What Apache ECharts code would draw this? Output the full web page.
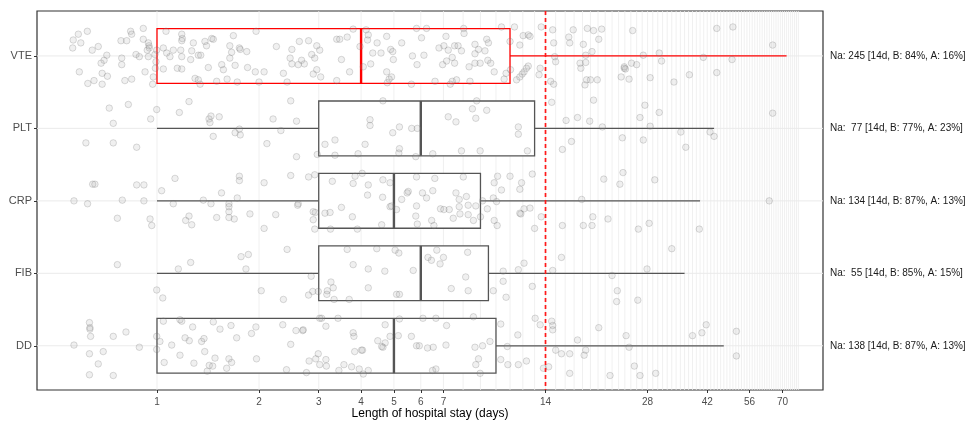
<!DOCTYPE html>
<html>
<head>
<meta charset="utf-8">
<script src="https://cdn.jsdelivr.net/npm/echarts@6/dist/echarts.min.js"></script>
<style>
html,body{margin:0;padding:0;background:#fff;}
#chart{width:968px;height:422px;}
</style>
</head>
<body>
<div id="chart"></div>
<script>
const categories = ['VTE', 'PLT', 'CRP', 'FIB', 'DD'];
const whiskerLow = [1, 1, 1, 1, 1];
const q1 = [1, 3, 3, 3, 1];
const median = [4, 6, 5, 6, 5];
const q3 = [11, 13, 9, 9.5, 10];
const whiskerHigh = [72, 44, 40, 36, 47];
const boxColors = ['#ff0000', '#555555', '#555555', '#555555', '#555555'];
const annotations = [
  'Na: 245 [14d, B: 84%, A: 16%]',
  'Na:  77 [14d, B: 77%, A: 23%]',
  'Na: 134 [14d, B: 87%, A: 13%]',
  'Na:  55 [14d, B: 85%, A: 15%]',
  'Na: 138 [14d, B: 87%, A: 13%]'
];
const tickValues = [1, 2, 3, 4, 5, 6, 7, 14, 28, 42, 56, 70];
const gridDays = Array.from({length: 78}, (_, i) => i + 1);
const cutoffDay = 14;

// jittered observations: [days, vertical jitter in category units]
const vtePoints = [
[0.566,-0.22],[0.586,-0.30],[0.623,-0.34],[0.564,-0.11],[0.596,-0.18],[0.644,-0.08],[0.671,-0.13],[0.711,-0.01],[0.698,0.06],[0.684,0.10],[0.787,0.03],[0.787,0.12],[0.783,-0.21],[0.814,-0.21],[0.836,-0.34],[0.842,-0.30],[0.911,-0.38],[0.911,-0.23],[0.943,-0.18],[0.949,-0.11],[0.947,-0.14],[0.867,-0.02],[0.887,0.01],[0.943,0.01],[0.986,-0.02],[0.993,0.08],[0.989,0.17],[0.975,0.29],[0.922,0.22],[0.842,0.32],[0.804,0.34],[0.714,0.28],[0.689,0.24],[0.689,0.39],[0.652,0.34],[0.625,0.38],[0.590,0.22],[0.998,-0.08],[0.971,0.39],[0.936,-0.08],
[1.063,-0.34],[1.183,-0.30],[1.188,-0.24],[1.183,-0.21],[1.28,-0.18],[1.385,-0.20],[1.40,-0.14],[1.466,-0.23],[1.45,-0.24],[1.64,-0.14],[1.75,-0.11],[1.76,-0.09],[1.68,-0.28],[1.96,-0.34],[1.044,-0.11],[1.068,-0.04],[1.092,0.01],[1.117,-0.08],[1.175,-0.08],[1.183,0.01],[1.266,-0.07],[1.257,0.05],[1.324,-0.01],[1.346,-0.01],[1.417,0.16],[1.552,0.12],[1.57,0.19],[1.64,0.03],[1.66,-0.05],[1.70,0.13],[1.84,-0.06],[1.85,0.16],[1.95,0.22],[2.07,0.22],[1.044,0.18],[1.148,0.17],[1.183,0.18],[1.295,0.31],[1.324,0.33],[1.34,0.39],[1.50,0.35],[1.61,0.32],[1.725,0.36],[2.0,0.36],[2.25,-0.13],[2.36,0.24],[2.42,0.36],[2.47,0.03],[2.50,-0.09],[2.63,-0.20],[2.80,-0.21],[2.96,-0.14],[3.02,-0.08],[2.86,-0.02],[2.92,0.03],[2.67,0.06],[2.72,0.11],[2.61,0.12],[2.50,0.11],[2.96,0.19],[2.89,0.25],[3.04,0.29],[3.39,-0.23],[3.46,-0.23],[3.64,-0.26],[3.79,-0.37],[3.50,0.05],[3.70,0.22],[3.39,0.34],[3.97,-0.13],[4.06,0.15],[4.14,-0.36],[4.20,-0.29],
[4.18,-0.22],[4.76,-0.27],[4.46,-0.18],[5.27,-0.18],[4.89,-0.09],[4.96,-0.06],[4.33,-0.04],[4.58,-0.04],[4.98,0.05],[4.27,0.11],[4.76,0.22],[4.92,0.29],[4.84,0.32],[4.78,0.37],[5.83,-0.38],[6.24,-0.38],[6.03,-0.25],[5.67,0.0],[5.85,0.12],[6.13,-0.01],[6.79,-0.11],[7.02,-0.14],[7.23,-0.08],[7.55,-0.14],[7.73,-0.14],[7.91,-0.07],[7.12,-0.27],[8.03,-0.38],[8.05,-0.31],[8.67,-0.16],[8.88,-0.09],[9.39,-0.23],[9.50,-0.18],[9.28,-0.07],[8.67,-0.03],[7.43,0.02],[7.15,0.07],[7.55,0.10],[8.33,0.15],[8.67,0.10],[8.98,0.10],[9.46,0.06],[9.65,0.10],[6.96,0.12],[8.38,0.35],[7.65,0.33],[7.43,0.35],[7.33,0.39],[6.61,0.35],[5.63,0.39],[9.88,0.22],[10.57,0.32],[10.71,0.24],[11.0,-0.20],[10.38,-0.40],[11.34,-0.40],[11.04,0.19],
[11.76,-0.15],[12.03,-0.28],[12.45,-0.29],[12.6,-0.27],[13.6,-0.40],[11.5,0.33],[11.76,0.29],[11.95,0.25],[12.1,0.22],[12.3,0.17],[12.45,0.14],[13.5,0.17],[13.4,0.26],[14.7,-0.36],[14.8,-0.18],[16.4,-0.26],[16.5,-0.18],[16.9,-0.36],[18.1,-0.16],[18.6,-0.38],[19.4,-0.35],[20.5,-0.37],[20.1,-0.23],[19.2,-0.06],[18.4,-0.01],[14.9,0.01],[15.0,0.08],[17.7,0.10],[17.8,0.17],[18.4,0.09],[14.5,0.35],[14.8,0.39],[18.5,0.33],[19.0,0.33],[19.9,0.33],[18.3,0.40],[23.4,0.29],[23.9,0.17],[25.3,-0.35],[44.8,-0.38],[50.0,-0.40],[65.5,-0.15],[49.7,0.05],[40.9,0.02],[30.3,-0.04],[30.8,0.07],[27.2,-0.01],[25.1,0.10],[26.0,0.12],[23.9,0.15],[24.1,0.18],[24.7,0.32],[28.5,0.30],[33.5,0.36],[37.2,0.26],[44.8,0.23]
];
const pltPoints = [
[0.723,-0.28],[0.823,-0.33],[0.743,-0.07],[0.617,0.20],[0.743,0.20],[0.871,0.26],[0.958,-0.13],[0.998,-0.26],[1.164,-0.22],[1.243,-0.37],[1.443,-0.17],[1.424,-0.13],[1.433,-0.08],[1.526,-0.16],[1.465,0.11],[1.75,0.01],[1.70,0.06],[1.76,0.09],[2.11,0.21],[2.20,-0.13],[2.32,0.03],[2.48,-0.38],[2.58,-0.10],[2.58,0.39],[2.97,0.36],[3.13,0.22],
[4.64,-0.38],[4.25,-0.12],[4.25,-0.04],[5.19,-0.02],[5.64,0.0],[5.86,0.0],[3.35,0.16],[4.11,0.22],[4.96,0.06],[5.19,0.28],[5.17,0.34],[5.8,0.39],[3.92,0.35],[3.35,0.37],[6.51,0.35],[7.23,-0.16],[7.62,-0.09],[8.52,-0.27],[8.77,-0.38],[8.72,-0.14],[9.39,-0.25],[11.64,-0.02],[11.64,0.08],[7.91,0.31],[8.98,0.31],[12.38,0.31],
[14.6,-0.36],[16.1,-0.11],[17.4,-0.15],[18.9,-0.10],[20.6,-0.02],[15.7,0.29],[16.7,0.18],[23.6,0.13],[19.4,-0.39],[27.5,-0.32],[30.3,-0.22],[26.6,-0.15],[28.5,-0.03],[27.2,0.16],[35.1,0.05],[42.8,0.05],[44.0,0.11],[36.3,0.26],[65.5,-0.21]
];
const crpPoints = [
[0.646,-0.23],[0.656,-0.23],[0.871,-0.22],[0.915,-0.22],[0.569,0.0],[0.624,0.04],[0.79,-0.01],[0.915,0.0],[1.032,-0.14],[1.13,-0.31],[1.37,-0.01],[1.443,0.04],[1.55,-0.11],[1.63,0.04],[1.725,-0.04],[1.75,-0.34],[1.75,-0.28],[2.07,-0.25],[2.48,-0.35],[2.61,0.04],[2.80,-0.33],[2.92,-0.36],
[0.764,0.24],[0.954,0.25],[0.965,0.34],[1.215,0.27],[1.243,0.21],[1.266,0.33],[1.50,0.23],[1.63,0.08],[1.63,0.15],[1.63,0.23],[1.69,0.25],[1.88,0.18],[2.07,0.38],[2.24,0.19],[2.60,0.06],[1.117,0.04],[2.93,0.16],[2.89,0.26],[2.92,0.39],[3.13,0.17],
[3.29,-0.27],[3.84,-0.34],[4.03,-0.38],[3.79,-0.24],[4.20,-0.22],[4.64,-0.29],[4.87,-0.25],[4.18,-0.08],[4.63,-0.05],[4.87,0.08],[5.51,-0.13],[5.83,-0.33],[6.6,-0.31],[8.01,-0.33],[5.27,-0.02],[5.47,-0.11],[6.07,-0.11],[6.24,-0.04],[6.51,-0.14],[7.62,-0.11],[7.79,-0.02],[8.18,-0.06],[5.83,0.07],[6.86,0.11],[7.28,0.12],[7.79,0.08],[8.28,0.06],[8.72,0.07],[9.13,0.0],
[9.88,-0.25],[10.11,-0.34],[11.0,-0.34],[11.9,-0.25],[12.8,-0.37],[10.38,-0.15],[11.76,-0.16],[10.04,0.01],[9.82,-0.04],[11.76,0.17],[12.6,0.10],[13.6,0.22],[17.9,-0.02],
[2.89,0.15],[3.24,0.16],[3.50,0.09],[3.77,0.22],[4.6,0.33],[3.90,0.39],[3.25,0.39],[4.92,0.07],[5.09,0.12],[5.80,0.21],[5.86,0.32],[6.46,0.27],[6.56,0.34],[7.02,0.12],[7.48,0.24],[7.83,0.18],[8.28,0.19],[8.58,0.27],[9.0,0.22],[9.43,0.11],[9.88,0.27],[10.08,0.34],[11.84,0.18],[12.1,0.11],[13.0,0.38],[15.7,0.34],[18.1,0.34],[19.2,0.34],[19.3,0.22],[21.4,0.25],[26.3,0.39],[28.3,0.31],[39.8,0.39],[64.0,0.0],[20.8,-0.30],[23.2,-0.23],[23.7,-0.39],[29.4,-0.29]
];
const fibPoints = [
[0.764,-0.12],[1.156,-0.06],[1.257,-0.15],[1.77,-0.23],[1.86,-0.26],[1.83,-0.06],[2.42,-0.33],[0.998,0.23],[1.04,0.34],[2.03,0.24],[2.36,0.36],[2.80,0.30],[2.88,0.25],[2.99,0.25],[2.85,0.04],[3.17,0.29],
[3.64,-0.33],[4.45,-0.34],[5.04,-0.32],[5.17,-0.28],[3.79,-0.12],[4.20,-0.06],[4.70,-0.03],[5.7,-0.04],[3.26,0.12],[3.31,0.20],[3.18,0.24],[4.20,0.20],[3.33,0.36],[3.69,0.36],[5.09,0.29],[5.19,0.29],
[6.3,-0.22],[6.45,-0.18],[6.69,-0.32],[7.0,-0.22],[6.84,-0.13],[8.25,-0.29],[8.14,0.05],[7.38,0.21],[8.28,0.24],[9.82,0.24],[10.5,-0.03],[10.5,0.11],[10.71,0.33],[11.64,-0.05],[12.1,-0.14],[12.8,0.18],[14.7,-0.04],[15.6,-0.22],[22.0,0.03],[22.8,0.24],[22.7,0.39],[27.9,-0.06],[26.2,0.37],[33.0,-0.34]
];
const ddPoints = [
[0.632,-0.32],[0.634,-0.25],[0.634,-0.23],[0.637,-0.13],[0.743,-0.13],[0.81,-0.19],[0.569,-0.01],[0.632,0.11],[0.694,0.08],[0.671,0.25],[0.632,0.40],[0.743,0.41],[0.887,0.02],[0.998,-0.13],[0.998,0.05],
[1.044,-0.34],[1.02,-0.06],[1.105,-0.01],[1.05,0.23],[1.169,-0.36],[1.183,-0.34],[1.169,0.13],[1.21,-0.11],[1.245,-0.07],[1.274,-0.26],[1.285,0.24],[1.354,-0.06],[1.376,-0.10],[1.383,0.08],[1.407,0.35],[1.426,0.27],[1.46,0.28],[1.466,-0.33],[1.483,0.17],[1.534,-0.23],[1.605,0.31],[1.63,0.18],[1.66,0.23],[1.653,-0.28],[1.718,-0.11],[1.90,-0.17],[1.958,-0.26],[1.966,0.18],[2.35,-0.29],[2.41,0.33],[2.48,-0.02],[2.57,-0.21],[2.69,-0.21],[2.76,0.37],[2.81,0.21],[2.94,0.18],[2.99,0.11],[3.06,-0.38],[3.15,-0.27],[3.15,0.19],[3.16,0.28],[3.02,0.26],[3.44,0.34],[3.56,0.26],[3.75,0.29],[3.83,0.08],[3.95,0.32],[4.04,0.06],[4.20,0.34],[4.48,-0.07],[4.64,0.02],[4.71,-0.04],[4.87,-0.13],[5.15,-0.14],[5.63,-0.13],[5.83,0.0],[5.94,0.0],[6.28,0.03],[6.53,0.02],[7.12,-0.01],[6.5,0.34],[6.65,0.32],[3.81,-0.13],[3.02,-0.38],[3.42,-0.38],[2.70,-0.22],[3.79,-0.18],[4.71,-0.29],[4.60,0.01],[4.01,0.06],[4.06,0.39],[5.19,-0.37],[6.09,-0.38],[6.65,-0.38],[7.15,-0.28],[8.67,0.02],[9.13,0.0],[9.6,-0.06],[8.58,-0.40],[8.88,0.18],[8.72,0.26],[8.98,0.38],
[10.33,-0.30],[10.8,0.01],[10.33,0.19],[10.84,0.26],[11.64,0.26],[12.3,0.21],[11.6,-0.15],[13.05,-0.38],[13.5,-0.29],[14.6,-0.34],[14.7,-0.28],[14.7,-0.22],[15.0,0.06],[15.6,0.11],[16.5,0.11],[17.4,-0.08],[18.4,0.06],[18.2,0.13],[20.1,-0.25],[16.5,0.38],[13.8,0.31],[14.3,0.29],[21.7,0.41],[24.2,-0.14],[24.7,0.02],[25.6,0.28],[26.6,0.41],[29.6,0.38],[38.0,-0.14],[40.5,-0.18],[41.7,-0.29],[51.2,-0.20],[51.2,0.14]
];
const pointSets = [vtePoints, pltPoints, crpPoints, fibPoints, ddPoints];

const FONT = '"Liberation Sans", Arial, Helvetica, sans-serif';
const X_MIN = 0.4426, X_MAX = 92.2;
const Y_MIN = -0.62, Y_MAX = 4.61;
const BOX_HALF = 0.378;

const scatterData = [];
pointSets.forEach((pts, i) => pts.forEach(p => scatterData.push([p[0], i + p[1]])));

const boxData = categories.map((c, i) => [i, whiskerLow[i], q1[i], median[i], q3[i], whiskerHigh[i]]);

const chart = echarts.init(document.getElementById('chart'), null, {renderer: 'canvas'});
chart.setOption({
  animation: false,
  backgroundColor: '#ffffff',
  grid: {left: 37, right: 145, top: 11, bottom: 32, show: true, borderColor: '#333333', borderWidth: 1.2, backgroundColor: 'transparent', containLabel: false, outerBoundsMode: 'none'},
  xAxis: {
    type: 'log', logBase: 10, min: X_MIN, max: X_MAX,
    position: 'bottom',
    name: 'Length of hospital stay (days)', nameLocation: 'middle', nameGap: 18, nameMoveOverlap: false,
    nameTextStyle: {fontFamily: FONT, fontSize: 12, color: '#000'},
    axisLine: {show: false, onZero: false},
    axisTick: {show: true, length: 3, lineStyle: {color: '#333', width: 1}, customValues: tickValues},
    axisLabel: {show: true, fontFamily: FONT, fontSize: 10, color: '#4d4d4d', margin: 7, customValues: tickValues, formatter: v => String(Math.round(v))},
    splitLine: {show: false}, minorTick: {show: false}, minorSplitLine: {show: false}
  },
  yAxis: {
    type: 'value', inverse: true, min: Y_MIN, max: Y_MAX,
    position: 'left',
    axisLine: {show: false, onZero: false},
    axisTick: {show: true, length: 3, lineStyle: {color: '#333', width: 1}, customValues: [0, 1, 2, 3, 4]},
    axisLabel: {show: true, fontFamily: FONT, fontSize: 11, color: '#4d4d4d', margin: 5, customValues: [0, 1, 2, 3, 4], formatter: v => categories[Math.round(v)] || ''},
    splitLine: {show: false}
  },
  series: [
    {
      type: 'custom', name: 'vgrid', z: 0, silent: true,
      data: gridDays.map(d => [d]),
      encode: {x: 0},
      renderItem: (params, api) => {
        const cs = params.coordSys;
        const x = api.coord([api.value(0), 0])[0];
        return {type: 'line', shape: {x1: x, y1: cs.y, x2: x, y2: cs.y + cs.height}, style: {stroke: '#ececec', lineWidth: 0.8}};
      }
    },
    {
      type: 'custom', name: 'hgrid', z: 0, silent: true,
      data: categories.map((c, i) => [i]),
      encode: {y: 0},
      renderItem: (params, api) => {
        const cs = params.coordSys;
        const y = api.coord([1, api.value(0)])[1];
        return {type: 'line', shape: {x1: cs.x, y1: y, x2: cs.x + cs.width, y2: y}, style: {stroke: '#ebebeb', lineWidth: 1}};
      }
    },
    {
      type: 'custom', name: 'box', z: 1, silent: true,
      data: boxData,
      encode: {x: [1, 2, 3, 4, 5], y: 0},
      renderItem: (params, api) => {
        const i = api.value(0);
        const color = boxColors[i];
        const lo = api.coord([api.value(1), i]);
        const b1 = api.coord([api.value(2), i - BOX_HALF]);
        const b2 = api.coord([api.value(4), i + BOX_HALF]);
        const m1 = api.coord([api.value(3), i - BOX_HALF]);
        const m2 = api.coord([api.value(3), i + BOX_HALF]);
        const hi = api.coord([api.value(5), i]);
        const children = [];
        if (lo[0] < b1[0] - 0.5) children.push({type: 'line', shape: {x1: lo[0], y1: lo[1], x2: b1[0], y2: lo[1]}, style: {stroke: color, lineWidth: 1.2}});
        children.push({type: 'line', shape: {x1: b2[0], y1: hi[1], x2: hi[0], y2: hi[1]}, style: {stroke: color, lineWidth: 1.2}});
        children.push({type: 'rect', shape: {x: b1[0], y: b1[1], width: b2[0] - b1[0], height: b2[1] - b1[1]}, style: {fill: '#ffffff', stroke: color, lineWidth: 1.3}});
        children.push({type: 'line', shape: {x1: m1[0], y1: m1[1], x2: m2[0], y2: m2[1]}, style: {stroke: color, lineWidth: 2.4}});
        return {type: 'group', children};
      }
    },
    {
      type: 'scatter', name: 'points', z: 3, silent: true,
      data: scatterData,
      symbol: 'circle', symbolSize: 6.5,
      itemStyle: {color: 'rgba(160,160,160,0.2)', borderColor: 'rgba(100,100,100,0.28)', borderWidth: 1}
    },
    {
      type: 'custom', name: 'cutoff', z: 4, silent: true,
      data: [[cutoffDay]],
      encode: {x: 0},
      renderItem: (params, api) => {
        const cs = params.coordSys;
        const x = api.coord([api.value(0), 0])[0];
        return {type: 'line', shape: {x1: x, y1: cs.y, x2: x, y2: cs.y + cs.height}, style: {stroke: '#ff1a1a', lineWidth: 1.7, lineDash: [4, 3]}};
      }
    },
    {
      type: 'custom', name: 'annotations', z: 5, silent: true, clip: false,
      data: categories.map((c, i) => [i]),
      encode: {y: 0},
      renderItem: (params, api) => {
        const cs = params.coordSys;
        const i = api.value(0);
        const y = api.coord([1, i])[1];
        return {type: 'text', x: cs.x + cs.width + 7, y: y, style: {text: annotations[i], fontFamily: FONT, fontSize: 10, fill: '#1a1a1a', textAlign: 'left', textVerticalAlign: 'middle', verticalAlign: 'middle'}};
      }
    }
  ]
});
</script>
</body>
</html>
